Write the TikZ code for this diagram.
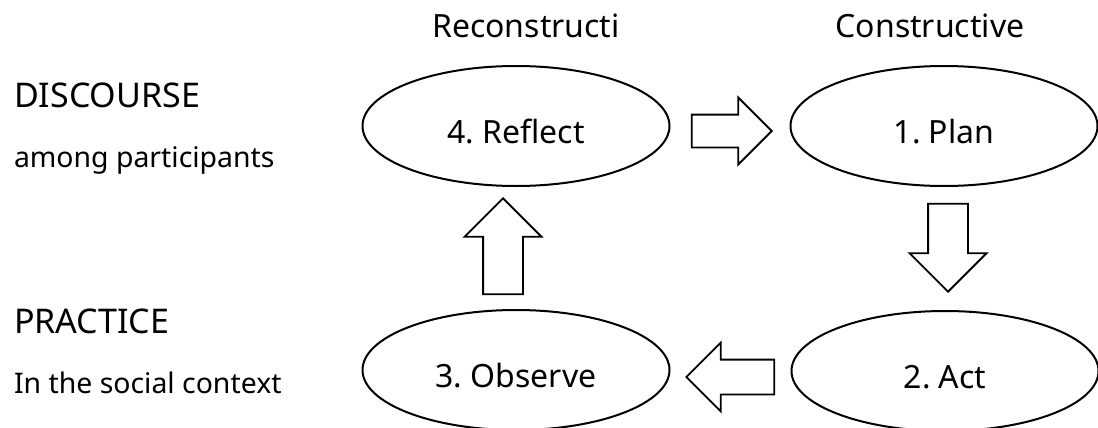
\documentclass[tikz,border=0pt]{standalone}
\usepackage{fontspec}
\setmainfont{Noto Sans}
\frenchspacing
\usetikzlibrary{shapes.geometric, shapes.arrows}
\tikzset{
  every picture/.style={line width=1pt},
  stage/.style={draw, ellipse, minimum width=153.5pt, minimum height=60pt, inner sep=0pt, text height=17.4pt, text depth=0pt, font=\fontsize{16}{18}\selectfont},
  blockarrow/.style={draw, single arrow, line width=0.9pt, inner xsep=0pt, fill=white, anchor=tip},
  heading/.style={anchor=base west, inner sep=0pt, font=\fontsize{17}{20}\selectfont},
  note/.style={anchor=base west, inner sep=0pt, font=\fontsize{14.2}{16}\selectfont},
  toplabel/.style={anchor=base, inner sep=0pt, font=\fontsize{16}{18}\selectfont},
}

\begin{document}
\begin{tikzpicture}[x=0.5pt, y=-0.5pt]
  \useasboundingbox (0,0) rectangle (1098,428);
  % left: the two levels
  \node[heading] (discourse) at (13,107) {DISCOURSE};
  \node[note] (among) at (13,167) {among participants};
  \node[heading] (practice) at (13,333) {PRACTICE};
  \node[note] (social) at (13,393) {In the social context};
  % top labels
  \node[toplabel] (recon) at (526,38) {Reconstructi};
  \node[toplabel] (cons) at (930,38) {Constructive};
  % the cycle
  \node[stage] (reflect) at (516,126) {4. Reflect};
  \node[stage] (plan) at (944,126) {1. Plan};
  \node[stage] (act) at (945,371) {2. Act};
  \node[stage] (observe) at (516,370) {3. Observe};
  \node[blockarrow, minimum height=40pt, inner ysep=7.75pt, single arrow head extend=8.5pt] (toplan) at (773,131) {};
  \node[blockarrow, rotate=-90, minimum height=44pt, inner ysep=9.5pt, single arrow head extend=9.25pt] (toact) at (948,293) {};
  \node[blockarrow, rotate=180, minimum height=44pt, inner ysep=8.25pt, single arrow head extend=8.5pt] (toobserve) at (685,377) {};
  \node[blockarrow, rotate=90, minimum height=48pt, inner ysep=9.5pt, single arrow head extend=9.25pt] (toreflect) at (503,197) {};
\end{tikzpicture}
\end{document}
